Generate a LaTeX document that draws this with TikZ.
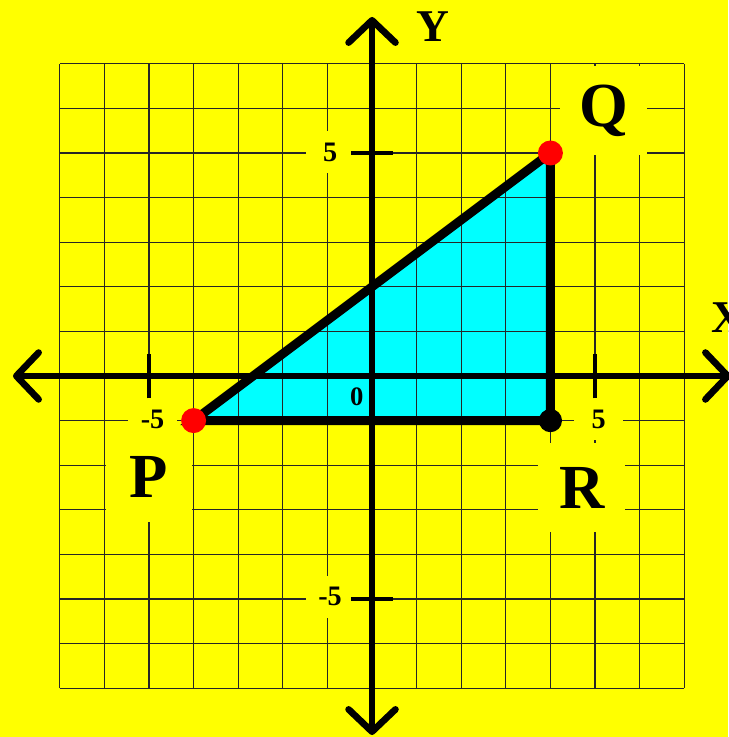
\documentclass[tikz,border=0pt]{standalone}
\usepackage{fontspec}
\setmainfont{Liberation Serif}
\usetikzlibrary{arrows.meta}
\definecolor{bgyellow}{HTML}{FFFF00}
\definecolor{fillcyan}{HTML}{00FFFF}
\definecolor{dotred}{HTML}{FF0000}

\begin{document}
\begin{tikzpicture}[
  x=1cm, y=1cm,
  gridline/.style={draw=black!85, line width=0.03cm},
  axis/.style={<->, >={Straight Barb[length=0.5cm, width=1.05cm, round]},
               line width=0.15cm, draw=black},
  tickmark/.style={line width=0.09cm, draw=black},
  edge/.style={line width=0.2cm, draw=black, line join=miter},
  vertex/.style={circle, fill=dotred, minimum size=0.56cm, inner sep=0pt},
  corner/.style={vertex, fill=black, minimum size=0.52cm},
  ptlab/.style={fill=bgyellow, font=\bfseries\fontsize{40}{40}\selectfont,
                minimum width=1.95cm, minimum height=2.0cm, inner sep=0pt},
  numlab/.style={fill=bgyellow, font=\bfseries\fontsize{18}{18}\selectfont,
                 minimum width=1.1cm, minimum height=0.95cm, inner sep=0pt},
  axlab/.style={font=\bfseries\fontsize{29}{29}\selectfont, inner sep=0pt},
]

% ---------------- background and frame ----------------
\fill[bgyellow] (-8.341,-8.094) rectangle (7.982,8.430);
\useasboundingbox (-8.341,-8.094) rectangle (7.982,8.430);

% corners of the triangle
\coordinate (P) at (-4,-1);
\coordinate (Q) at (4,5);
\coordinate (R) at (4,-1);

% ---------------- triangle fill and grid ----------------
\fill[fillcyan] (P) -- (Q) -- (R) -- cycle;
\draw[gridline] (-7,-7) grid (7,7);

% ---------------- labels (their boxes hide the grid) ----------------
\node[ptlab] (Plab) at (-5.00,-2.27) {P};
\node[ptlab] (Qlab) at (5.20,5.95) {Q};
\node[ptlab] (Rlab) at (4.70,-2.50) {R};
\node[numlab] (x5) at (5.08,-0.97) {5};
\node[numlab] (xm5) at (-4.92,-0.97) {-5};
\node[numlab] (y5) at (-0.94,5.02) {5};
\node[numlab] (ym5) at (-0.94,-4.95) {-5};
\node[font=\bfseries\fontsize{17}{17}\selectfont, inner sep=0pt] (zero)
  at (-0.34,-0.47) {0};

% ---------------- axes ----------------
\coordinate (xl) at (-8.05,0);
\coordinate (xr) at (8.05,0);
\coordinate (yb) at (0,-8.05);
\coordinate (yt) at (0,8.05);
\draw[axis] (xl) -- (xr);
\draw[axis] (yb) -- (yt);
\foreach \t in {-5,5} {
  \draw[tickmark] (\t,-0.5) -- (\t,0.5);
  \draw[tickmark] (-0.47,\t) -- (0.47,\t);
}
\node[axlab] (xlab) at (7.98,1.32) {X};
\node[axlab] (ylab) at (1.37,7.83) {Y};

% ---------------- triangle edges and corners ----------------
\draw[edge] (P) -- (Q) -- (R) -- cycle;
\node[vertex] (Pdot) at (P) {};
\node[vertex] (Qdot) at (Q) {};
\node[corner] (Rdot) at (R) {};

\end{tikzpicture}
\end{document}
